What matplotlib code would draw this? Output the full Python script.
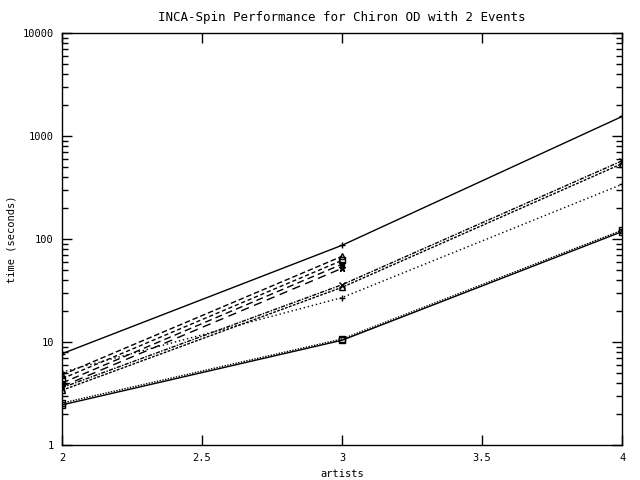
import numpy as np
import matplotlib
matplotlib.use("Agg")
import matplotlib.pyplot as plt
from matplotlib.ticker import FixedLocator, FixedFormatter, LogLocator, NullFormatter

# artists vs run time (seconds)
artists_full = [2, 3, 4]
artists_short = [2, 3]

full_solid = [7.7, 87, 1550]
full_dotted = [5.1, 27, 340]
full_dashdot_a = [3.6, 36, 575]
full_dashdot_b = [3.4, 34, 540]
full_bottom_a = [2.55, 10.7, 122]
full_bottom_b = [2.45, 10.4, 118]

short_a = [4.8, 68]
short_b = [4.4, 62]
short_c = [4.0, 57]
short_d = [3.7, 52]

plt.rcParams["font.family"] = "DejaVu Sans Mono"
plt.rcParams["font.size"] = 7.5

fig = plt.figure(figsize=(6.4, 4.8), dpi=100)
ax = fig.add_axes([0.097, 0.073, 0.875, 0.858])

kw = dict(color="black", linewidth=1.0, markersize=5, markeredgewidth=1.0)
ax.plot(artists_full, full_solid, linestyle="-", marker="+", **kw)
ax.plot(artists_full, full_dotted, linestyle=(0, (1, 2)), marker="+", **kw)
ax.plot(artists_full, full_dashdot_a, linestyle=(0, (3, 1, 1, 1)), marker="x", markersize=4, color="black", linewidth=1.0)
ax.plot(artists_full, full_dashdot_b, linestyle=(0, (2, 1)), marker="^", markerfacecolor="none", markersize=4, color="black", linewidth=1.0)
ax.plot(artists_full, full_bottom_a, linestyle=(0, (1, 1)), marker="s", markerfacecolor="none", markersize=4, color="black", linewidth=1.0)
ax.plot(artists_full, full_bottom_b, linestyle="-", marker="s", markerfacecolor="none", markersize=4, color="black", linewidth=1.0)

ax.plot(artists_short, short_a, linestyle=(0, (4, 2)), marker="^", markerfacecolor="none", markersize=4, color="black", linewidth=1.0)
ax.plot(artists_short, short_b, linestyle=(0, (3, 2)), marker="s", markerfacecolor="none", markersize=4, color="black", linewidth=1.0)
ax.plot(artists_short, short_c, linestyle=(0, (5, 3)), marker="s", markersize=3, color="black", linewidth=1.0)
ax.plot(artists_short, short_d, linestyle=(0, (6, 4)), marker="*", markersize=5, color="black", linewidth=1.0)

ax.set_yscale("log")
ax.set_xlim(2, 4)
ax.set_ylim(1, 10000)

ax.xaxis.set_major_locator(FixedLocator([2, 2.5, 3, 3.5, 4]))
ax.xaxis.set_major_formatter(FixedFormatter(["2", "2.5", "3", "3.5", "4"]))
ax.yaxis.set_major_locator(FixedLocator([1, 10, 100, 1000, 10000]))
ax.yaxis.set_major_formatter(FixedFormatter(["1", "10", "100", "1000", "10000"]))
ax.yaxis.set_minor_locator(LogLocator(base=10, subs=np.arange(2, 10)))
ax.yaxis.set_minor_formatter(NullFormatter())

ax.tick_params(which="both", direction="in", top=True, right=True, width=1.0)
ax.tick_params(which="major", length=7, pad=6)
ax.tick_params(which="minor", length=4)
for s in ax.spines.values():
    s.set_linewidth(1.0)

ax.set_title("INCA-Spin Performance for Chiron OD with 2 Events", pad=9)
ax.set_xlabel("artists", labelpad=4)
ax.set_ylabel("time (seconds)")
ax.yaxis.set_label_coords(-0.082, 0.5)

fig.savefig("out.png", dpi=100)
